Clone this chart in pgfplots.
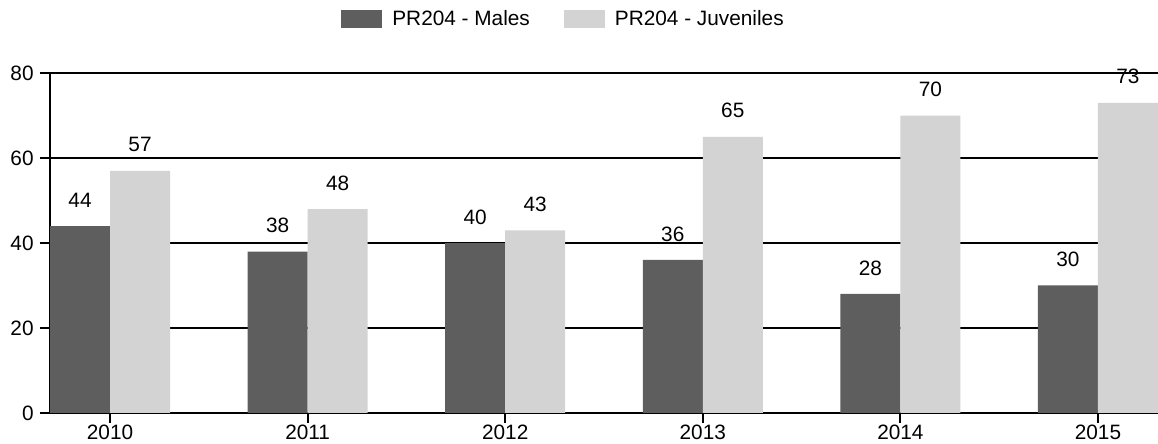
\documentclass[border=0pt]{standalone}
\usepackage{pgfplots}
\pgfplotsset{compat=1.18}
\usepackage{fontspec}
\setmainfont{Liberation Sans}
\definecolor{darkbar}{HTML}{5E5E5E}
\definecolor{lightbar}{HTML}{D3D3D3}
\begin{document}
\begin{tikzpicture}
\begin{axis}[
  scale only axis,
  width=554pt, height=170pt,
  xmin=-0.3038, xmax=5.3038,
  ymin=0, ymax=80,
  ybar=0pt, bar width=30pt,
  axis x line=bottom, axis y line=left,
  axis line style={-, line width=1pt, black},
  ytick={0,20,40,60,80},
  xtick={0,1,2,3,4,5},
  xticklabels={2010,2011,2012,2013,2014,2015},
  tick align=outside,
  major tick length=5pt,
  tick style={black, line width=1pt},
  ymajorgrids,
  grid style={black, line width=1pt},
  /pgf/number format/assume math mode=true,
  font=\fontsize{10.4}{12}\selectfont,
  ticklabel style={font=\fontsize{10.4}{12}\selectfont},
  yticklabel style={inner sep=3pt},
  xticklabel style={inner sep=1pt},
  nodes near coords,
  nodes near coords style={anchor=center, yshift=13pt, font=\fontsize{10.4}{12}\selectfont, black},
  clip=false,
  legend columns=2,
  legend style={draw=none, at={(axis description cs:0.2626,1.1588)}, anchor=west, inner sep=0pt,
    nodes={inner sep=0pt}, font=\fontsize{10.4}{12}\selectfont,
    /tikz/every even column/.append style={column sep=17pt}},
  legend image code/.code={\fill[#1] (0pt,-4.5pt) rectangle (20.5pt,4.5pt);},
]
\addplot[fill=darkbar, draw=none] coordinates {(0,44) (1,38) (2,40) (3,36) (4,28) (5,30)};
\addplot[fill=lightbar, draw=none] coordinates {(0,57) (1,48) (2,43) (3,65) (4,70) (5,73)};
\legend{\hspace{5pt}PR204 - Males, \hspace{5pt}PR204 - Juveniles}
\coordinate (bl) at (rel axis cs:0,0);
\coordinate (tr) at (rel axis cs:1,1);
\end{axis}
\pgfresetboundingbox
\path[use as bounding box] ([xshift=-25pt,yshift=-15.5pt]bl) rectangle ([yshift=36.5pt]tr);
\end{tikzpicture}
\end{document}
